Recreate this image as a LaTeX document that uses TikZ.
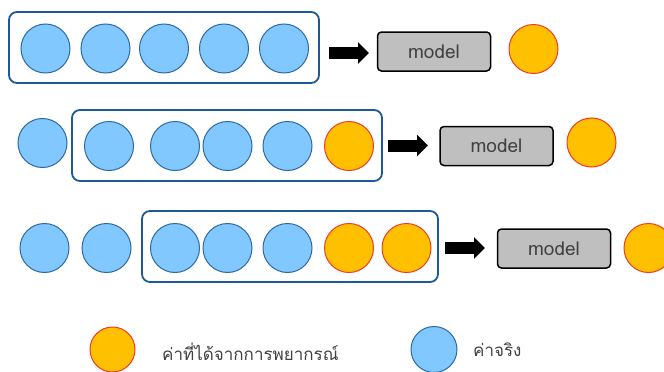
\documentclass[tikz,border=0pt]{standalone}
\usepackage{fontspec}
\newfontfamily\thaifont[Script=Thai]{Loma}
\usetikzlibrary{arrows.meta}
\definecolor{realfill}{HTML}{80C8FF}
\definecolor{realline}{HTML}{2E6AA0}
\definecolor{predfill}{HTML}{FFC000}
\definecolor{predline}{HTML}{F03A2A}
\definecolor{framecol}{HTML}{1B5A96}
\definecolor{modelfill}{HTML}{BFBFBF}
\definecolor{modeltext}{HTML}{404040}
\tikzset{
  real/.style={circle, minimum size=49pt, inner sep=0pt, fill=realfill, draw=realline, line width=1pt},
  pred/.style={circle, minimum size=49pt, inner sep=0pt, fill=predfill, draw=predline, line width=1pt},
  window/.style={draw=framecol, line width=1.8pt, rounded corners=8pt},
  modelbox/.style={draw=black, line width=1.5pt, fill=modelfill, rounded corners=4pt, minimum width=113pt, minimum height=39pt, inner sep=0pt, font=\thaifont\fontsize{19}{22}\selectfont, text=modeltext},
  bigarrow/.style={line width=12pt, -{Triangle[length=11pt,width=21pt]}},
  legendtext/.style={font=\thaifont\fontsize{17}{20}\selectfont, text=modeltext, anchor=west, inner sep=0pt}
}
\begin{document}
\begin{tikzpicture}[x=1pt,y=-1pt]
\useasboundingbox (0,0) rectangle (664,372);
% row 1
\node[window, minimum width=310pt, minimum height=71pt] (w1) at (164,47.5) {};
\node[real] (r11) at (45.5,48.5) {};
\node[real] (r12) at (105.5,48.5) {};
\node[real] (r13) at (164,48.5) {};
\node[real] (r14) at (224,48.5) {};
\node[real] (r15) at (284,48.5) {};
\node[modelbox] (m1) at (434,51.5) {model};
\node[pred] (p1) at (533.5,49) {};
\coordinate (a1s) at (329,53);
\coordinate (a1e) at (369,53);
\draw[bigarrow] (a1s) -- (a1e);
% row 2
\node[window, minimum width=310pt, minimum height=71pt] (w2) at (227,145.5) {};
\node[real] (r20) at (42.5,143) {};
\node[real] (r21) at (109,146) {};
\node[real] (r22) at (175,146) {};
\node[real] (r23) at (227.5,146) {};
\node[real] (r24) at (287.5,146) {};
\node[pred] (r25) at (349,146) {};
\node[modelbox] (m2) at (496.5,146) {model};
\node[pred] (p2) at (591.5,142.5) {};
\coordinate (a2s) at (388,145.5);
\coordinate (a2e) at (428,145.5);
\draw[bigarrow] (a2s) -- (a2e);
% row 3
\node[window, minimum width=296pt, minimum height=71pt] (w3) at (290,246.5) {};
\node[real] (r30) at (44.5,248) {};
\node[real] (r31) at (106.5,248) {};
\node[real] (r32) at (175,248) {};
\node[real] (r33) at (227.5,248) {};
\node[real] (r34) at (287.5,248) {};
\node[pred] (r35) at (349,248) {};
\node[pred] (r36) at (406.5,248) {};
\node[modelbox] (m3) at (554,248.5) {model};
\node[pred] (p3) at (648.5,248) {};
\coordinate (a3s) at (445,248);
\coordinate (a3e) at (485,248);
\draw[bigarrow] (a3s) -- (a3e);
% legend
\node[pred, minimum size=45pt] (lp) at (112.5,349.5) {};
\node[legendtext] (lpt) at (162,352) {ค่าที่ได้จากการพยากรณ์};
\node[real, minimum size=46pt] (lr) at (434,349.5) {};
\node[legendtext] (lrt) at (473,350) {ค่าจริง};
\end{tikzpicture}
\end{document}
